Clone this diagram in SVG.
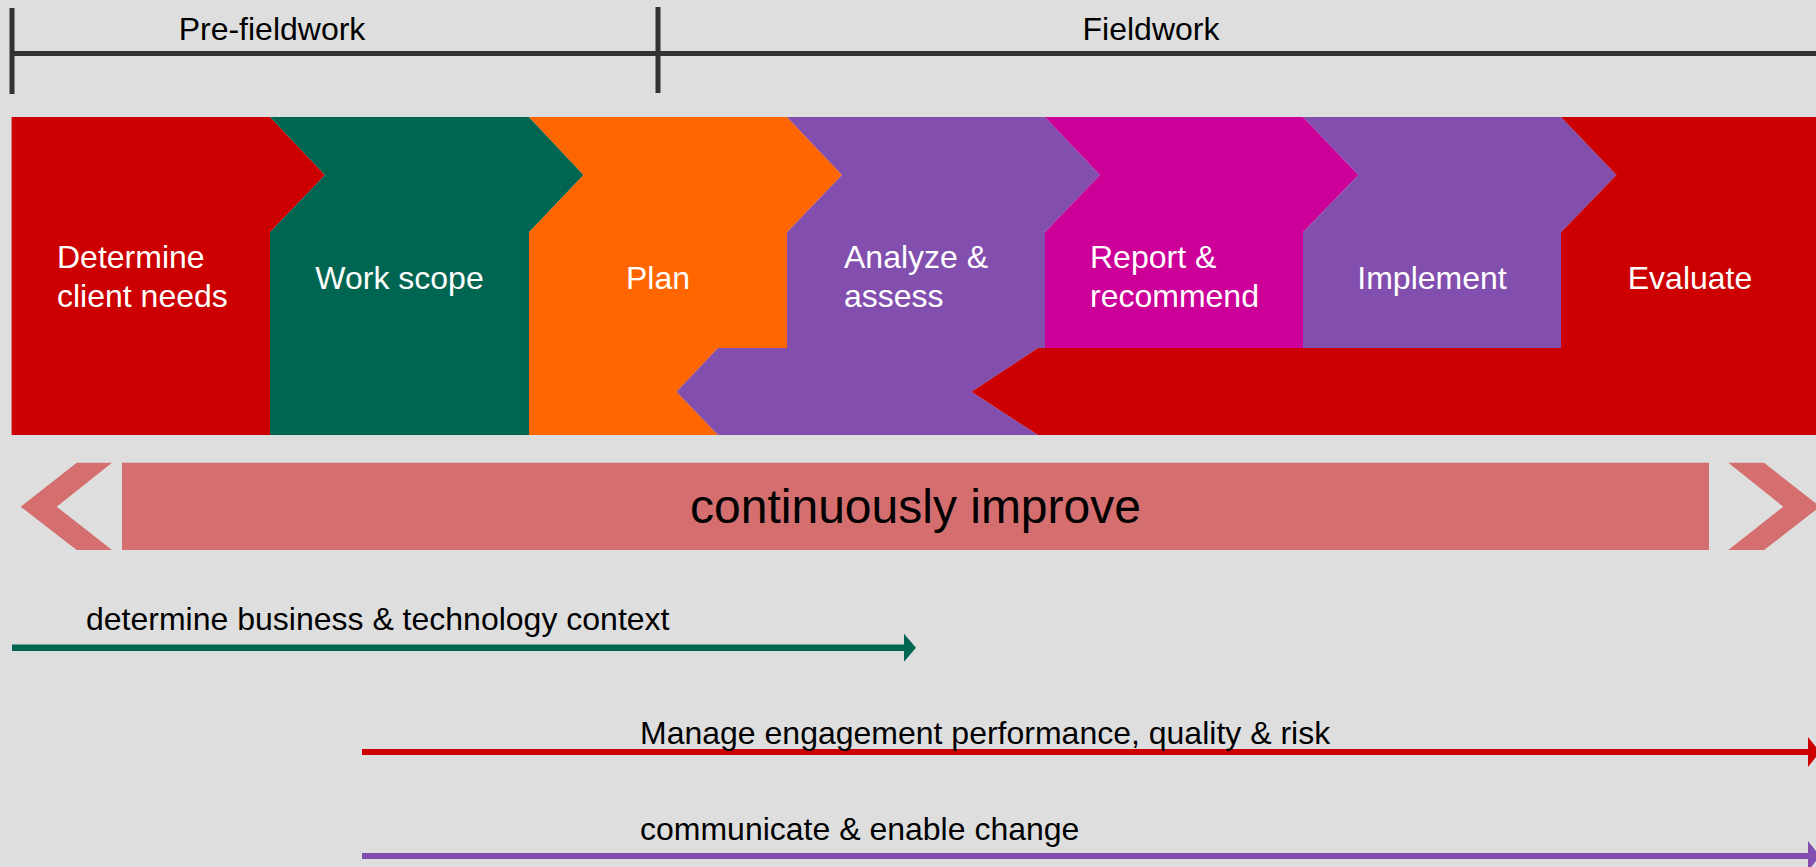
<svg xmlns="http://www.w3.org/2000/svg" width="1816" height="867" viewBox="0 0 1816 867">
  <style>
    .lbl { font-family: "Liberation Sans", Arial, sans-serif; font-size: 32px; fill: #000000; }
    .node-txt { font-family: "Liberation Sans", Arial, sans-serif; font-size: 32px; fill: #FFFFFF; }
    .big { font-family: "Liberation Sans", Arial, sans-serif; font-size: 48px; fill: #000000; }
    .tick { stroke: #333333; stroke-width: 5; }
    .red { fill: #CC0000; }
    .green { fill: #006652; }
    .orange { fill: #FF6600; }
    .purple { fill: #834FAE; }
    .magenta { fill: #CC0099; }
    .salmon { fill: #D56F6F; }
  </style>
  <defs>
    <marker id="headGreen" markerUnits="userSpaceOnUse" markerWidth="12" markerHeight="28" viewBox="0 0 12 28" refX="0" refY="14" orient="auto">
      <path d="M0,0 L12,14 L0,28 Z" fill="#006652"/>
    </marker>
    <marker id="headRed" markerUnits="userSpaceOnUse" markerWidth="12" markerHeight="30" viewBox="0 0 12 30" refX="0" refY="15" orient="auto">
      <path d="M0,0 L12,15 L0,30 Z" fill="#CC0000"/>
    </marker>
    <marker id="headPurple" markerUnits="userSpaceOnUse" markerWidth="12" markerHeight="30" viewBox="0 0 12 30" refX="0" refY="15" orient="auto">
      <path d="M0,0 L12,15 L0,30 Z" fill="#834FAE"/>
    </marker>
  </defs>

  <rect x="0" y="0" width="1816" height="867" fill="#DEDEDE"/>

  <g id="phase-bar">
    <line class="tick" x1="12" y1="53.5" x2="1816" y2="53.5" stroke-width="6"/>
    <line class="tick" x1="12" y1="8" x2="12" y2="94"/>
    <line class="tick" x1="658" y1="7" x2="658" y2="93"/>
    <text class="lbl" x="272" y="40" text-anchor="middle">Pre-fieldwork</text>
    <text class="lbl" x="1151" y="40" text-anchor="middle">Fieldwork</text>
  </g>

  <g id="node-determine">
    <polygon class="red" points="11.6,117 270,117 325,175 270,232.3 270,435 11.6,435"/>
    <text class="node-txt" x="57" y="268">Determine</text>
    <text class="node-txt" x="57" y="306.7">client needs</text>
  </g>

  <g id="node-workscope">
    <polygon class="green" points="270,117 529,117 583.6,175 529,232.3 529,435 270,435 270,232.3 325,175"/>
    <text class="node-txt" x="399.5" y="289" text-anchor="middle">Work scope</text>
  </g>

  <g id="node-plan">
    <polygon class="orange" points="529,117 787,117 842,175 787,232.3 787,348 718,348 676.5,391.7 718,435 529,435 529,232.3 583.6,175"/>
    <text class="node-txt" x="658" y="289" text-anchor="middle">Plan</text>
  </g>

  <g id="node-analyze">
    <polygon class="purple" points="787,117 1045,117 1100,175 1045,232.3 1045,348 1038,348 971.5,391.7 1038,435 718,435 676.5,391.7 718,348 787,348 787,232.3 842,175"/>
    <text class="node-txt" x="844" y="268">Analyze &amp;</text>
    <text class="node-txt" x="844" y="306.7">assess</text>
  </g>

  <g id="node-report">
    <polygon class="magenta" points="1045,117 1303,117 1358.5,175 1303,232.3 1303,348 1045,348 1045,232.3 1100,175"/>
    <text class="node-txt" x="1090" y="268">Report &amp;</text>
    <text class="node-txt" x="1090" y="306.7">recommend</text>
  </g>

  <g id="node-implement">
    <polygon class="purple" points="1303,117 1561,117 1616.5,175 1561,232.3 1561,348 1303,348 1303,232.3 1358.5,175"/>
    <text class="node-txt" x="1432" y="289" text-anchor="middle">Implement</text>
  </g>

  <g id="node-evaluate">
    <polygon class="red" points="1561,117 1816,117 1816,435 1038,435 971.5,391.7 1038,348 1561,348 1561,232.3 1616.5,175"/>
    <text class="node-txt" x="1690" y="289" text-anchor="middle">Evaluate</text>
  </g>

  <g id="continuously-improve">
    <polygon class="salmon" points="20.7,506.7 76.7,462.7 112,462.7 56.7,506.7 112,550 76.7,550"/>
    <rect class="salmon" x="122" y="462.7" width="1587" height="87.3"/>
    <polygon class="salmon" points="1728.3,462.7 1764,462.7 1820,506.7 1764,550 1728.3,550 1783.3,506.7"/>
    <text class="big" x="915.5" y="523" text-anchor="middle">continuously improve</text>
  </g>

  <g id="connectors">
    <line x1="12" y1="647.7" x2="904" y2="647.7" stroke="#006652" stroke-width="6.5" marker-end="url(#headGreen)"/>
    <line x1="362" y1="752" x2="1808" y2="752" stroke="#CC0000" stroke-width="6" marker-end="url(#headRed)"/>
    <line x1="362" y1="856" x2="1808" y2="856" stroke="#834FAE" stroke-width="6" marker-end="url(#headPurple)"/>
  </g>

  <g id="connector-labels">
    <text class="lbl" x="86" y="630">determine business &amp; technology context</text>
    <text class="lbl" x="640" y="743.5">Manage engagement performance, quality &amp; risk</text>
    <text class="lbl" x="640" y="840">communicate &amp; enable change</text>
  </g>
</svg>
